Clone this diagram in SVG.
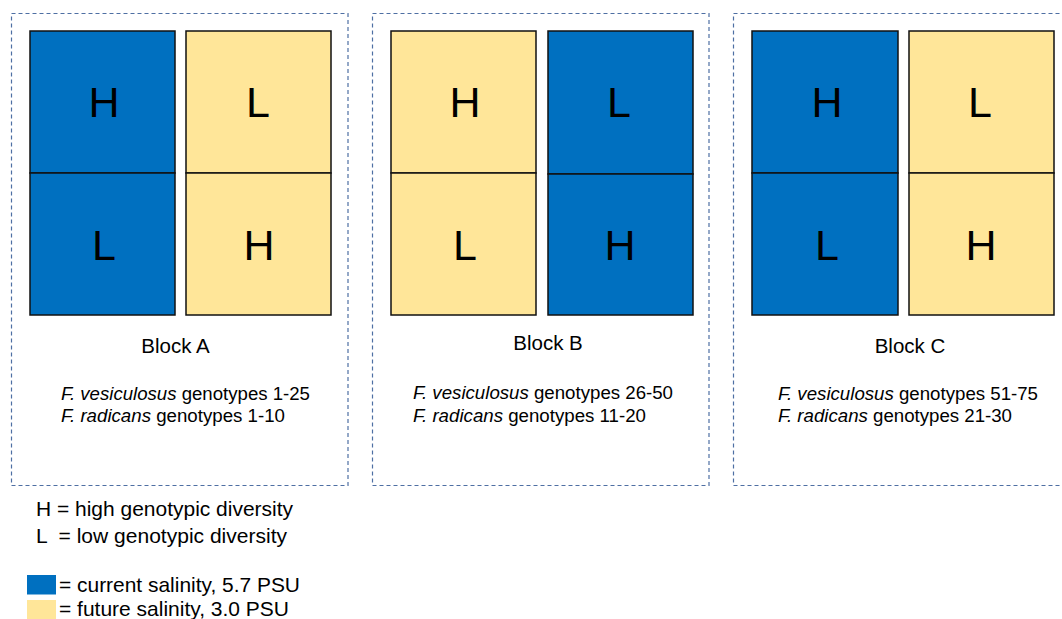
<svg xmlns="http://www.w3.org/2000/svg" width="1062" height="619" viewBox="0 0 1062 619">
<style>
.blk{fill:none;stroke:#4E6FA3;stroke-width:1.2;stroke-dasharray:4 3}
.cur{fill:#0070C0;stroke:#111;stroke-width:1.5}
.fut{fill:#FFE699;stroke:#111;stroke-width:1.5}
.big{font-family:"Liberation Sans",Arial,sans-serif;font-size:43px;fill:#000;text-anchor:middle}
.lbl{font-family:"Liberation Sans",Arial,sans-serif;font-size:20.5px;fill:#000;text-anchor:middle}
.gen{font-family:"Liberation Sans",Arial,sans-serif;font-size:18.3px;fill:#000}
.leg{font-family:"Liberation Sans",Arial,sans-serif;font-size:20.3px;fill:#000}
</style>
<rect width="1062" height="619" fill="#fff"/>
<g id="blockA">
<rect class="blk" x="11.5" y="13.5" width="336.5" height="472"/>
<rect class="cur" x="30" y="31" width="145" height="142"/>
<rect class="cur" x="30" y="173" width="145" height="142"/>
<rect class="fut" x="186" y="31" width="145" height="142"/>
<rect class="fut" x="186" y="173" width="145" height="142"/>
<text class="big" x="104" y="117">H</text>
<text class="big" x="104" y="260">L</text>
<text class="big" x="258" y="117">L</text>
<text class="big" x="259" y="260">H</text>
<text class="lbl" x="175.5" y="353">Block A</text>
<text class="gen" x="61" y="400" textLength="249" lengthAdjust="spacingAndGlyphs"><tspan font-style="italic">F. vesiculosus</tspan> genotypes 1-25</text>
<text class="gen" x="61" y="421.7" textLength="224" lengthAdjust="spacingAndGlyphs"><tspan font-style="italic">F. radicans</tspan> genotypes 1-10</text>
</g>
<g id="blockB">
<rect class="blk" x="372.5" y="13.5" width="336.5" height="472"/>
<rect class="fut" x="391" y="31" width="145" height="142"/>
<rect class="fut" x="391" y="173" width="145" height="142"/>
<rect class="cur" x="548" y="31" width="145" height="143"/>
<rect class="cur" x="548" y="174" width="145" height="141"/>
<text class="big" x="465" y="117">H</text>
<text class="big" x="465" y="260">L</text>
<text class="big" x="619" y="117">L</text>
<text class="big" x="620" y="260">H</text>
<text class="lbl" x="548" y="350">Block B</text>
<text class="gen" x="413" y="399" textLength="260" lengthAdjust="spacingAndGlyphs"><tspan font-style="italic">F. vesiculosus</tspan> genotypes 26-50</text>
<text class="gen" x="413" y="421.7" textLength="233" lengthAdjust="spacingAndGlyphs"><tspan font-style="italic">F. radicans</tspan> genotypes 11-20</text>
</g>
<g id="blockC">
<rect class="blk" x="733.5" y="13.5" width="340" height="472"/>
<rect class="cur" x="752" y="31" width="146" height="142"/>
<rect class="cur" x="752" y="173" width="146" height="142"/>
<rect class="fut" x="909" y="31" width="145" height="142"/>
<rect class="fut" x="909" y="173" width="145" height="142"/>
<text class="big" x="827" y="117">H</text>
<text class="big" x="827" y="260">L</text>
<text class="big" x="980" y="117">L</text>
<text class="big" x="981" y="260">H</text>
<text class="lbl" x="910" y="353">Block C</text>
<text class="gen" x="778" y="400" textLength="260" lengthAdjust="spacingAndGlyphs"><tspan font-style="italic">F. vesiculosus</tspan> genotypes 51-75</text>
<text class="gen" x="778" y="421.7" textLength="234" lengthAdjust="spacingAndGlyphs"><tspan font-style="italic">F. radicans</tspan> genotypes 21-30</text>
</g>
<g id="legend">
<text class="leg" x="36" y="516" textLength="257" lengthAdjust="spacingAndGlyphs">H = high genotypic diversity</text>
<text class="leg" x="36" y="542.5" xml:space="preserve" textLength="251" lengthAdjust="spacingAndGlyphs">L  = low genotypic diversity</text>
<rect x="27" y="575" width="29" height="19.5" fill="#0070C0"/>
<rect x="27" y="600" width="29" height="20" fill="#FFE699"/>
<text class="leg" x="59" y="591.5" textLength="241" lengthAdjust="spacingAndGlyphs">= current salinity, 5.7 PSU</text>
<text class="leg" x="59" y="616" textLength="230" lengthAdjust="spacingAndGlyphs">= future salinity, 3.0 PSU</text>
</g>
<g id="connectors"/>
</svg>
